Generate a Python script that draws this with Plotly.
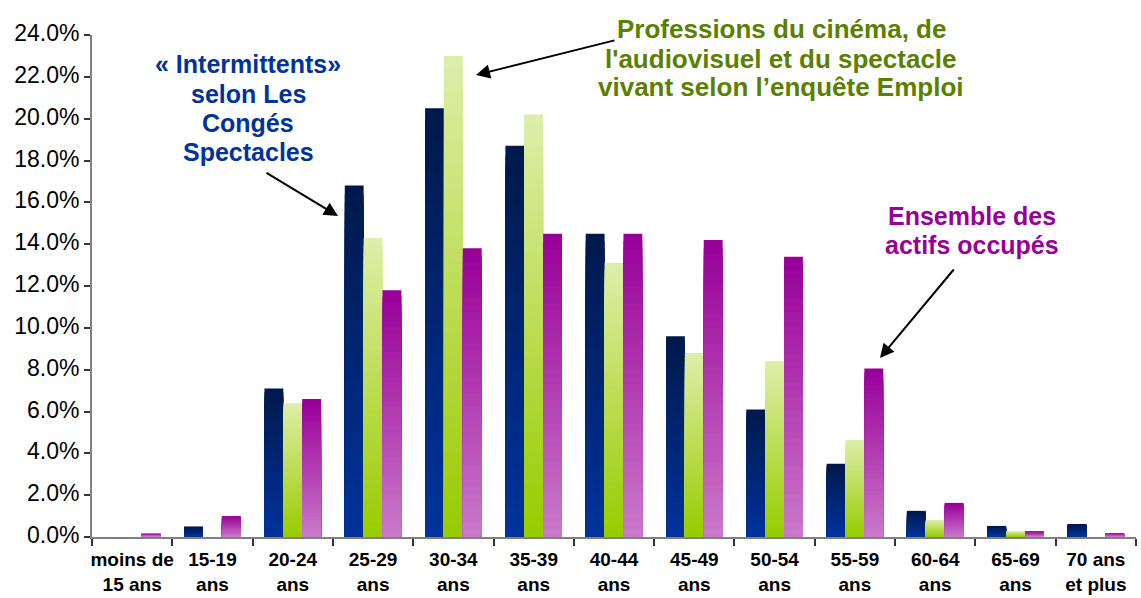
import plotly.graph_objects as go

categories = ["moins de<br>15 ans", "15-19<br>ans", "20-24<br>ans", "25-29<br>ans", "30-34<br>ans",
              "35-39<br>ans", "40-44<br>ans", "45-49<br>ans", "50-54<br>ans", "55-59<br>ans",
              "60-64<br>ans", "65-69<br>ans", "70 ans<br>et plus"]
intermittents = [0.0, 0.5, 7.1, 16.8, 20.5, 18.7, 14.5, 9.6, 6.1, 3.5, 1.25, 0.53, 0.62]
professions = [0.0, 0.0, 6.4, 14.3, 23.0, 20.2, 13.1, 8.8, 8.4, 4.65, 0.82, 0.27, 0.0]
actifs = [0.16, 1.0, 6.6, 11.8, 13.8, 14.5, 14.5, 14.2, 13.4, 8.05, 1.63, 0.27, 0.17]
y_ticks = [0, 2, 4, 6, 8, 10, 12, 14, 16, 18, 20, 22, 24]

label_blue = ["« Intermittents»", "selon Les", "Congés", "Spectacles"]
label_green = ["Professions du cinéma, de", "l'audiovisuel et du spectacle", "vivant selon l’enquête Emploi"]
label_purple = ["Ensemble des", "actifs occupés"]

W, H = 1141, 598
L, R, T, B = 92, 5, 35, 61

series = [
    (intermittents, (0x00, 0x19, 0x4B), (0x00, 0x33, 0x9C), -0.3525),
    (professions, (0xDD, 0xEE, 0xA8), (0x99, 0xCC, 0x00), -0.1175),
    (actifs, (0x99, 0x00, 0x99), (0xCA, 0x78, 0xCA), 0.1175),
]
STEPS = 40
xs = list(range(len(categories)))

fig = go.Figure()
for vals, top, bot, off in series:
    for k in range(STEPS):
        f = 1 - k / STEPS
        t = k / (STEPS - 1)
        c = tuple(round(top[i] + (bot[i] - top[i]) * t) for i in range(3))
        fig.add_trace(go.Bar(
            x=xs, y=[v * f for v in vals], width=0.235, offset=off,
            marker=dict(color="rgb(%d,%d,%d)" % c, line=dict(width=0)),
            showlegend=False, hoverinfo="skip"))

fig.update_layout(
    width=W, height=H, barmode="overlay",
    margin=dict(l=L, r=R, t=T, b=B, autoexpand=False),
    paper_bgcolor="white", plot_bgcolor="white",
    font=dict(family="Liberation Sans, Arial, sans-serif", color="black"),
)
fig.update_xaxes(
    automargin=False,
    range=[-0.5, len(categories) - 0.5],
    tickvals=xs, ticktext=["<b>%s</b>" % c for c in categories],
    tickfont=dict(size=19, color="black"),
    ticklabelstandoff=4,
    showgrid=False, zeroline=False,
    showline=True, linecolor="#808080", linewidth=2,
    ticks="",
    minor=dict(tickvals=[i - 0.5 for i in range(len(categories) + 1)],
               ticks="outside", ticklen=7, tickcolor="#333", tickwidth=1.5),
)
fig.update_yaxes(
    automargin=False,
    range=[0, 24], tickvals=y_ticks, ticktext=["%.1f%%" % v for v in y_ticks],
    tickfont=dict(size=23, color="black"),
    ticklabelshift=-2,
    showgrid=False, zeroline=False,
    showline=True, linecolor="#808080", linewidth=2,
    ticks="outside", ticklen=6, tickcolor="#333", tickwidth=1.5,
)

def px(x):
    return (x - L) / (W - L - R)

def py(y):
    return (H - B - y) / (H - T - B)

def add_lines(lines, cx, ys, size, color):
    for text, yy in zip(lines, ys):
        fig.add_annotation(xref="paper", yref="paper", x=px(cx), y=py(yy),
                           xanchor="center", yanchor="middle",
                           text="<b>%s</b>" % text, showarrow=False,
                           font=dict(size=size, color=color))

add_lines(label_blue, 248, [64, 94, 123, 152], 25, "#00339C")
add_lines(label_green, 781, [29, 59, 87], 26, "#5B8000")
add_lines(label_purple, 972, [216, 245], 25, "#990099")

# arrows
for tip, tail in [((338, 216), (265, 172)), ((476, 75), (616, 40)), ((880, 358), (955, 268))]:
    fig.add_annotation(xref="paper", yref="paper", x=px(tip[0]), y=py(tip[1]),
                       ax=tail[0] - tip[0], ay=tail[1] - tip[1], axref="pixel", ayref="pixel",
                       text="", showarrow=True, arrowhead=2, arrowsize=1.4, arrowwidth=2,
                       arrowcolor="black")

fig.write_html("out.html", config={"displayModeBar": False},
               post_script="document.body.style.margin='0';document.body.style.overflow='hidden';")
